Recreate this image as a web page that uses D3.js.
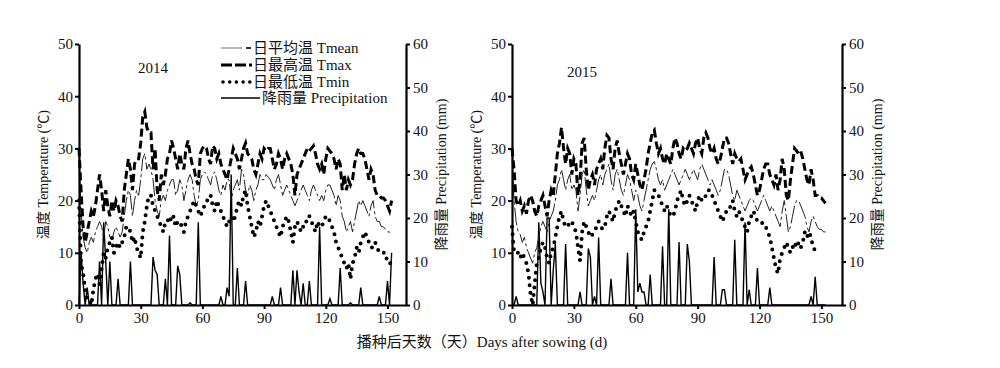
<!DOCTYPE html>
<html>
<head>
<meta charset="utf-8">
<script src="https://cdn.jsdelivr.net/npm/d3@7"></script>
<style>
  body { margin: 0; background: #fff; }
  svg text { font-family: "Liberation Serif", "Noto Sans CJK SC", serif; fill: #111; }
</style>
</head>
<body>
<svg width="1000" height="368"></svg>
<script>
// daily values, day 0 .. end of season
var tmax14 = [30,22,15,12,14,16,18,17,19,22, 25,22,18,22,19,17,20,18,20,19, 17,16,22,25,28,26,22,27,28,28,
  31,36,37,34,33,33,26,30,22,20, 25,23,25,28,29,31.5,30,28,26,29, 27,26,30,31.5,29,27,26,24,23,29,
  30,30.5,30,28,27,30.5,30,28,29,27, 26,25,24,26,28,30,29,28,26,28, 30,31,29,28.5,28,26,25,27,29,28,
  30,29.5,30,30,28,26,27,29,28,26, 28,29,28,27,25,21,25,26,27,28, 29,30,29.5,30,30.5,29,27,26,27,25,
  28,30,29.5,29,28,26,28,27,22,25, 22,24,23,24,27,29,30,29,29,28, 26,24,26,25,22,21,21,20.5,20.5,20,
  19,18,20];
var tmean14 = [29,18,13,11,10,12,13,12,14,15, 16,15,13,16,15,13,12.5,14,15,14, 13,14,17,20,22,21,17,20,22,21,
  24,28,29,26,27,26,24,20,18,17, 20,21,20,22,23,24,24,21,22,24, 23,20,22,24,25,24,21,19,20,24,
  25,25.5,25,24,23,25,25.5,24,22,21, 23,22,24,24,20,22,23,24,22,26, 25,22,21,23,22,20,22,23,25,24,
  24,25,24.5,24,23,22,24,25,23,21, 22,23,22,21,20,19,20,21,22,23, 22,21,20,22,23,22,21,20,21,20,
  22,23,23,22,21,19,21,20,17,16, 14,15,16,14,16,18,20,19,20,19, 18,17,19,20,17,16,16,15,15,14.5,
  14,14,13.5];
var tmin14 = [20,8,6,3,1,1,0,3,5,6, 4,7,10,9,11,12,13,10,11,12, 11,12,13,15,15,14,12,13,11,10,
  9,14,16,19,21,21,19,18,17,16, 15,14,16,16,17,16,17,15,16,16, 15,14,16,17,18,19,20,19,18,17,
  18,19,20,20,21,19,18,20,19,18, 17,16,15,16,17,16,17,19,20,19, 21,22,19,17,15,13,14,16,15,17,
  19,20,19,18,17,16,15,14,13,15, 16,17,16,14,12,15,16,15,14,15, 15,17,17,16,15,14,16,15,15,16,
  17,17,16,15,14,12,11,10,9,8, 7,8,5,8,9,11,10,12,13,14, 13,12,11,11,12,11,10,10,10,10,
  8,8,8];
var rain14 = [0,12,5,0,4,0,0,0,0,0, 10,0,19,10,0,10,0,0,0,6, 0,0,0,0,0,10,0,0,0,0,
  0,0,0,0,0,0,11,8,7,0, 0,0,6,0,16,0,0,0,9,7, 0,0,0,0,0.5,0,0,0,19,0,
  0,0,0,0,0,0,0,0,0,2, 0,0,4,2,30,0,0,8.5,0,0, 0,5.5,0,0,0,0,0,0,0,0,
  0,0,0,0,2,0,0,0,4,0, 0,0,0,0,8,0,8,3,0,5, 0,0,5.5,0,0,0,0,18,0,0,
  0,0,1.5,0,0,0,0,8.5,0,0, 0,0,0.5,0,0,0,0,4,0,0, 0,0,0,0,0,0,2,0,0,0,
  5.5,0,12];

var tmax15 = [30,26,20,19,20,18,19,17.5,20,21, 20,18,17,19,20,21,19,17,20,22, 21,25,29,31,34,30,27,30,29,25,
  28,27,21,24,31,32,26,22,24,25, 23,26,27,28,26,30,32.5,32,28,26, 30,31.5,29,27,25,27,29,28,25,24,
  27,25,23,22,24,26,29,31,33,33.5, 31,29,30,28,27,29,28,27,30,32, 31,29,28,30,29.5,30,31,30,29,31,
  32,30,29,32,33,32,30,29,30,28, 27,28,30,32,32,31,29,27,29,28, 27.5,28,26,24,25,26,26.5,25,23,21,
  22,24,26,27,27,25,24,23,25,22, 24,28,26,21,20,24,27,30,29.5,29, 29.5,28,26,24,23,26,24,21,21,20.5,
  20.5,20,19.5];
var tmean15 = [29,20,16,14,13.5,12,13,11,10,9, 8,10,11,13,15,16,15,14,16,17, 18,20,23,24,26,24,22,24,25,22,
  23,22,18,21,25,26,22,19,20,21, 20,22,24,25,23,25,26,27,24,22, 25,26,24,22,21,23,25,24,22,20,
  22,21,19,18,20,22,24,26,27,27.5, 26,24,23,24,22,23,24,25,26,25, 24,23,24,25,26,25,24,25,26,25,
  24,26,27,26,25,24,23,24,23,22, 21,22,24,26,26,25,23,21,20,22, 21,20,19,18,19,20,20.5,20,19,18,
  19,20,21,20,19,18,19,18,17,16, 15,18,20,17,14,15,17,19,20,20, 19,18,17,15,14,16,17,16,15,14.5,
  14.5,14,14];
var tmin15 = [15,10,10,10,9,10,9,8,6,2, 0,4,8,9,11,12,11,9,8,10, 11,13,15,17,18,16,15,15,16,16,
  15,14,11,8.5,14,16,15,14,13,13.5, 14,15,16,15,14.5,15,17,18,17,16, 18,19,20,19,18,17,19,18,17,18,
  16,14,13,12.5,14,15,16,18,20,22, 21.5,21,20,19,18,19,18,17,17,18, 20,21,22,20,19,20,21,20,19,18,
  20,21,20,20,21,22,22,21,20,19, 18,17,16,17,18,18,19,20,18,17, 18,17,16,15,14,16,17,18,17,16,
  16,16,15,15,14,13,11,9,7,6, 9,10,11,12,11,10,11,12,11,12, 11,12,14,13,14,13,11,10.5];
var rain15 = [0,0,2,0,0,0,0,0,0,0, 0,0,0,19,5,3,0,20,20,0, 8,14,0,0,0,0,14,0,0,0,
  0,0,0,3,0,0,0,13,11,0, 2,0,15.5,0,0,0,0,0,6,0, 0,0,0,0,0,0,12,0,0,0,
  22,3,5,3,3,0,0,7,0,0, 0,0,0,13.5,0,0,22,0,0,0, 0,14.5,0,0,0,14,10,0,0,0,
  0,0,0,0,0,0,0,0,11,0, 0,0,3.5,3.5,0,0,0,0,15,0, 0,0,0,19,0,3.5,0,0,0,8.5,
  0,0,0,0,0,4,0,0,0,0, 0,0,0,0,0,0,0,0,0,0, 0,0,0,0,0,2,0,6.5,0,0,
  0,0,0];

var tempTicks = [0, 10, 20, 30, 40, 50];
var rainTicks = [0, 10, 20, 30, 40, 50, 60];
var dayTicks = [0, 30, 60, 90, 120, 150];

var svg = d3.select("svg");
var plotTop = 44, plotBottom = 305;

function drawPanel(p) {
  var g = svg.append("g");
  var x = d3.scaleLinear().domain([0, p.dayMax]).range([p.x0, p.x1]);
  var yT = d3.scaleLinear().domain([0, 50]).range([plotBottom, plotTop]);
  var yR = d3.scaleLinear().domain([0, 60]).range([plotBottom, plotTop]);

  function line(y) {
    return d3.line().x(function(d, i) { return x(i); }).y(function(d) { return y(d); });
  }

  g.append("path").attr("d", line(yR)(p.rain))
    .attr("fill", "none").attr("stroke", "#000").attr("stroke-width", 1.4);
  g.append("path").attr("d", line(yT)(p.tmean))
    .attr("fill", "none").attr("stroke", "#222").attr("stroke-width", 1)
    .attr("stroke-dasharray", "18,3,3,3");
  g.append("path").attr("d", line(yT)(p.tmin))
    .attr("fill", "none").attr("stroke", "#000").attr("stroke-width", 4)
    .attr("stroke-linecap", "round").attr("stroke-dasharray", "0,7.5");
  g.append("path").attr("d", line(yT)(p.tmax))
    .attr("fill", "none").attr("stroke", "#000").attr("stroke-width", 3)
    .attr("stroke-dasharray", "8,4");

  var ax = [
    g.append("g").attr("transform", "translate(" + p.x0 + ",0)")
      .call(d3.axisLeft(yT).tickValues(tempTicks).tickSize(4).tickSizeOuter(0).tickPadding(2)),
    g.append("g").attr("transform", "translate(" + p.x1 + ",0)")
      .call(d3.axisRight(yR).tickValues(rainTicks).tickSize(4).tickSizeOuter(0).tickPadding(3)),
    g.append("g").attr("transform", "translate(0," + plotBottom + ")")
      .call(d3.axisBottom(x).tickValues(dayTicks).tickSize(4).tickSizeOuter(0).tickPadding(3))
  ];
  ax.forEach(function(a) {
    a.select(".domain").attr("stroke-width", 2.2);
    a.selectAll(".tick line").attr("stroke-width", 2);
    a.selectAll("text").style("font-size", "15px").attr("fill", "#111");
  });

  g.append("text").attr("x", p.yearX).attr("y", p.yearY)
    .attr("text-anchor", "middle").style("font-size", "15px").text(p.year);

  g.append("text")
    .attr("transform", "translate(" + (p.x0 - 31) + "," + ((plotTop + plotBottom) / 2) + ") rotate(-90)")
    .attr("text-anchor", "middle").style("font-size", "14px")
    .text("温度 Temperature (℃)");
  g.append("text")
    .attr("transform", "translate(" + (p.x1 + 40) + "," + ((plotTop + plotBottom) / 2) + ") rotate(-90)")
    .attr("text-anchor", "middle").style("font-size", "14px")
    .text("降雨量 Precipitation (mm)");
}

drawPanel({ x0: 79, x1: 406, dayMax: 159, year: "2014", yearX: 153, yearY: 73,
  tmax: tmax14, tmean: tmean14, tmin: tmin14, rain: rain14 });
drawPanel({ x0: 512, x1: 842, dayMax: 160, year: "2015", yearX: 582, yearY: 77,
  tmax: tmax15, tmean: tmean15, tmin: tmin15, rain: rain15 });

// legend (2014 panel)
var lg = svg.append("g").attr("transform", "translate(221,0)");
var rows = [48, 65, 82, 98];
lg.append("line").attr("x1", 0).attr("x2", 21).attr("y1", rows[0]).attr("y2", rows[0])
  .attr("stroke", "#888").attr("stroke-width", 1.2);
lg.append("line").attr("x1", 25).attr("x2", 30).attr("y1", rows[0]).attr("y2", rows[0])
  .attr("stroke", "#000").attr("stroke-width", 1.6);
lg.append("line").attr("x1", 0).attr("x2", 31).attr("y1", rows[1]).attr("y2", rows[1])
  .attr("stroke", "#000").attr("stroke-width", 3).attr("stroke-dasharray", "11,3,11,3,4");
lg.append("line").attr("x1", 2).attr("x2", 29).attr("y1", rows[2]).attr("y2", rows[2])
  .attr("stroke", "#000").attr("stroke-width", 3.6).attr("stroke-linecap", "round")
  .attr("stroke-dasharray", "0,6.7");
lg.append("line").attr("x1", 0).attr("x2", 39).attr("y1", rows[3]).attr("y2", rows[3])
  .attr("stroke", "#000").attr("stroke-width", 1.6);
var labels = ["日平均温 Tmean", "日最高温 Tmax", "日最低温 Tmin", "降雨量 Precipitation"];
var lx = [32, 32, 32, 41];
labels.forEach(function(t, i) {
  lg.append("text").attr("x", lx[i]).attr("y", rows[i] + 5)
    .style("font-size", "15px").attr("fill", "#444").text(t);
});

svg.append("text").attr("x", 482).attr("y", 347).attr("text-anchor", "middle")
  .style("font-size", "15px").text("播种后天数（天）Days after sowing (d)");
</script>
</body>
</html>
